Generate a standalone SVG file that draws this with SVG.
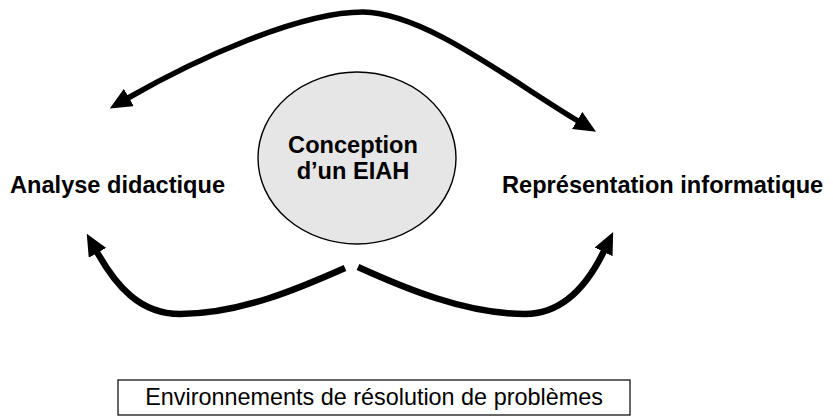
<svg xmlns="http://www.w3.org/2000/svg" width="833" height="418" viewBox="0 0 833 418">
  <style>
    .label { font-family: "Liberation Sans", Arial, sans-serif; font-weight: bold; font-size: 23.6px; fill: #000; }
    .plain { font-family: "Liberation Sans", Arial, sans-serif; font-size: 23.4px; fill: #000; }
    .link { fill: none; stroke: #000; stroke-width: 5.5; stroke-linecap: butt; stroke-linejoin: round; }
    .link-low { stroke-width: 6.5; }
  </style>
  <defs>
    <marker id="head" viewBox="0 0 22 20" refX="1" refY="10" markerUnits="userSpaceOnUse" markerWidth="22" markerHeight="20" orient="auto-start-reverse">
      <path d="M0,0 L22,10 L0,20 Z" fill="#000"/>
    </marker>
  </defs>

  <rect width="833" height="418" fill="#fff"/>

  <!-- connectors -->
  <g id="connectors">
    <path class="link" d="M128,98 C 198,58 300,12 363,12 C 425,13 508,79 578,121" marker-start="url(#head)" marker-end="url(#head)"/>
    <path class="link link-low" d="M345,268 C 300,288 240,314 180,314 C 140,314 116,286 97,252" marker-end="url(#head)"/>
    <path class="link link-low" d="M358,267 C 402,287 465,314 525,314 C 563,314 587,286 604,251" marker-end="url(#head)"/>
  </g>

  <!-- central node -->
  <g id="node-conception">
    <ellipse cx="357" cy="158" rx="99" ry="86" fill="#e6e6e6" stroke="#000" stroke-width="1.4"/>
    <text class="label" x="353" y="153" text-anchor="middle">Conception</text>
    <text class="label" x="353" y="179" text-anchor="middle">d’un EIAH</text>
  </g>

  <g id="node-analyse">
    <text class="label" x="10" y="193">Analyse didactique</text>
  </g>

  <g id="node-representation">
    <text class="label" x="502" y="193">Représentation informatique</text>
  </g>

  <g id="node-environnements">
    <rect x="118" y="380" width="512" height="35" fill="#fff" stroke="#000" stroke-width="1.2"/>
    <text class="plain" x="374" y="405" text-anchor="middle">Environnements de résolution de problèmes</text>
  </g>
</svg>
